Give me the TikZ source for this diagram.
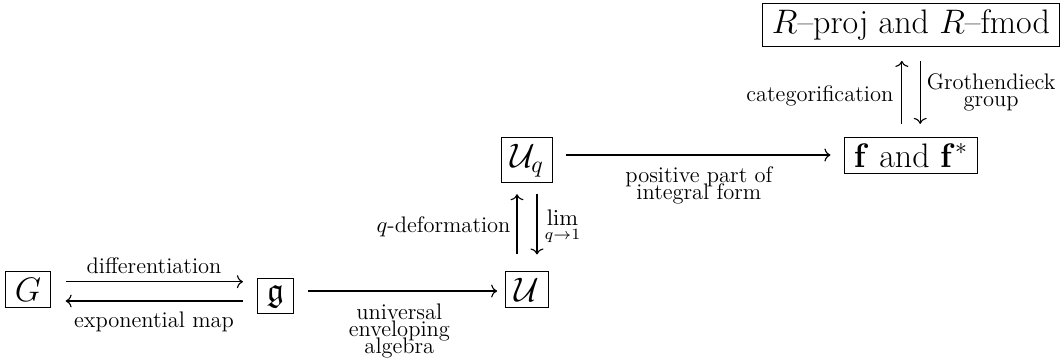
\RequirePackage{fix-cm}
\documentclass[tikz,border=0pt]{standalone}
\usepackage{amsmath,amssymb}
\usetikzlibrary{arrows.meta}
\newcommand\mylblfont{\fontsize{11.25}{8.5}\selectfont\lineskip=0pt\relax\lineskiplimit=-20pt\relax}
\tikzset{
  obj/.style={draw, line width=0.5pt, inner xsep=4.5pt, inner ysep=3pt, anchor=base, font=\fontsize{17}{20}\selectfont},
  lbl/.style={font=\mylblfont, inner sep=0pt},
  arr/.style={-{To[length=3pt,width=6.5pt]}, line width=0.55pt}
}
\begin{document}
\begin{tikzpicture}[x=0.5pt, y=-0.5pt]
\useasboundingbox (0,0) rectangle (1063,360);
\node[obj] (G)  at (28,301)   {$G$};
\node[obj] (g)  at (275.5,301) {$\mathfrak g$};
\node[obj] (U)  at (527,301)  {$\mathcal U$};
\node[obj] (Uq) at (527,167)  {$\mathcal U_q$};
\node[obj] (f)  at (911,167)  {$\mathbf f$ and $\mathbf f^*$};
\node[obj] (R)  at (911,33.5) {$R$--proj and $R$--fmod};

\draw[arr, shorten <=7.5pt, shorten >=7.25pt] ([yshift=9.65pt]G.base east) -- ([yshift=9.65pt]G.base east -| g.west)
  node[lbl, midway, anchor=base, yshift=4.35pt] {differentiation};
\draw[arr, shorten <=7.25pt, shorten >=7.5pt] (G.base east -| g.west) -- (G.base east)
  node[lbl, midway, anchor=north, yshift=-5pt] {exponential map};
\draw[arr, shorten <=7.25pt, shorten >=4pt] ([yshift=5pt]g.base east) -- ([yshift=5pt]U.base west)
  node[lbl, midway, anchor=north, yshift=-6pt, align=center] {universal\\enveloping\\algebra};
\draw[arr, shorten <=6.5pt, shorten >=7pt] ([yshift=6pt]Uq.base east) -- ([yshift=6pt]f.base west)
  node[lbl, midway, anchor=north, yshift=-5.5pt, align=center] {positive part of\\integral form};
\draw[arr, shorten <=8.4pt, shorten >=5.5pt] ([xshift=-5pt]U.north) -- ([xshift=-5pt]U.north |- Uq.south)
  node[lbl, midway, anchor=east, xshift=-3pt] {$q$-deformation};
\draw[arr, shorten <=5.5pt, shorten >=8.4pt] ([xshift=5pt]U.north |- Uq.south) -- ([xshift=5pt]U.north)
  node[lbl, midway, anchor=west, xshift=3.5pt] {$\lim\limits_{q\to 1}$};
\draw[arr, shorten <=6.5pt, shorten >=7pt] ([xshift=-4.6pt]f.north) -- ([xshift=-4.6pt]f.north |- R.south)
  node[lbl, midway, anchor=east, xshift=-4pt, yshift=-2pt] {categorification};
\draw[arr, shorten <=7pt, shorten >=6.5pt] ([xshift=4.6pt]f.north |- R.south) -- ([xshift=4.6pt]f.north)
  node[lbl, midway, anchor=west, xshift=3pt, align=center] {Grothendieck\\group};
\end{tikzpicture}
\end{document}
